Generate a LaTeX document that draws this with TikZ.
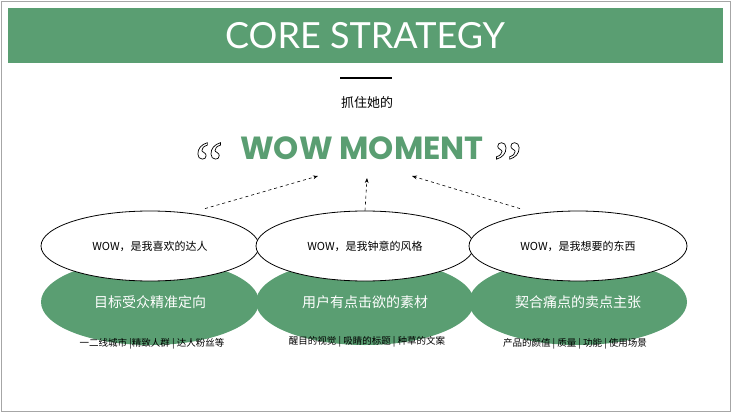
\documentclass[tikz,border=0pt]{standalone}
\usepackage{fontspec}
\setmainfont{Liberation Sans}
\newfontfamily\cjk{Noto Sans CJK SC}
\newfontfamily\pop{Poppins}
\newfontfamily\lat{Lato}
\newfontfamily\qf{Liberation Serif}
\definecolor{gr}{HTML}{5A9E72}
\newcommand{\outl}[1]{\special{pdf:literal direct 1 Tr 0.7 w}#1\special{pdf:literal direct 0 Tr}}
\begin{document}
\begin{tikzpicture}[x=1pt,y=-1pt,
  wov/.style={ellipse,draw=black,fill=white,line width=0.8pt,minimum width=218pt,minimum height=70pt,inner sep=0pt},
  gov/.style={ellipse,fill=gr,minimum width=218pt,minimum height=86pt,inner sep=0pt,text=white,font=\cjk\fontsize{14}{14}\selectfont},
  sub/.style={font=\cjk\fontsize{9.5}{9.5}\selectfont},
  wt/.style={font=\cjk\fontsize{11}{11}\selectfont},
  qt/.style={font=\qf\fontsize{64}{64}\selectfont,inner sep=0pt},
  arr/.style={-{Stealth[length=5pt]},dashed,line width=0.6pt}]
\usetikzlibrary{shapes.geometric,arrows.meta}
\fill[white] (0,0) rectangle (731,412);
\draw[gray!70,line width=0.8pt] (1,1) rectangle (730,411);
\fill[gr] (8,8) rectangle (723,63);
\node[text=white,font=\lat\fontsize{36}{36}\selectfont] (title) at (365,36) {CORE STRATEGY};
\draw[line width=1.2pt] (340,78) -- (392,78);
\node[font=\cjk\fontsize{13}{13}\selectfont] (grab) at (367,103) {抓住她的};
\node[text=gr,font=\pop\bfseries\fontsize{32}{32}\selectfont] (wow) at (362,148) {WOW MOMENT};
\node[qt] (lq) at (209,164) {\outl{“}};
\node[qt] (rq) at (508,164) {\outl{”}};
\coordinate (t1) at (318,176); \coordinate (t2) at (367,178); \coordinate (t3) at (412,176);
\node[gov] (g1) at (150,302) {目标受众精准定向};
\node[gov] (g2) at (365,302) {用户有点击欲的素材};
\node[gov] (g3) at (578,302) {契合痛点的卖点主张};
\node[wov] (w1) at (150,246) {};
\node[wov] (w2) at (365,246) {};
\node[wov] (w3) at (578,246) {};
\node[wt] at (w1) {WOW，是我喜欢的达人};
\node[wt] at (w2) {WOW，是我钟意的风格};
\node[wt] at (w3) {WOW，是我想要的东西};
\node[sub] (s1) at (152,344) {一二线城市 |精致人群 | 达人粉丝等};
\node[sub] (s2) at (367,342) {醒目的视觉 | 吸睛的标题 | 种草的文案};
\node[sub] (s3) at (575,344) {产品的颜值 | 质量 | 功能 | 使用场景};
\draw[arr] (w1.north) ++(55,-2) -- (t1);
\draw[arr] (w2.north) -- (t2);
\draw[arr] (w3.north) ++(-58,-2) -- (t3);
\end{tikzpicture}
\end{document}
